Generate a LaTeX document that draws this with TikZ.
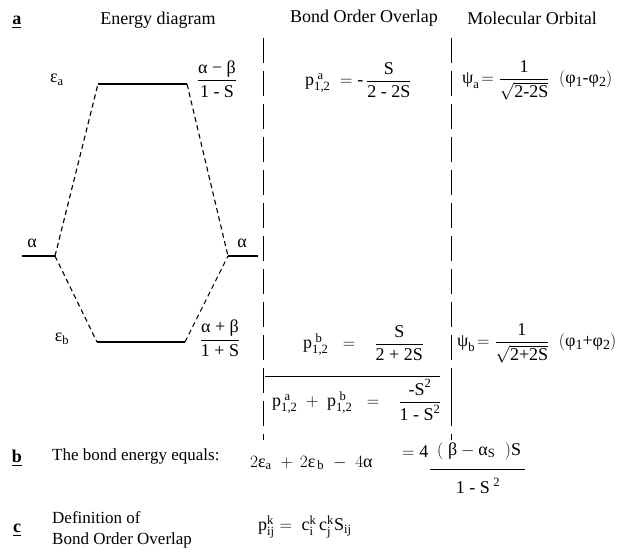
\documentclass[tikz,border=0pt]{standalone}
\usepackage{amsmath}
\usepackage{fontspec}
\setmainfont{Liberation Serif}
\newcommand{\tx}[1]{\text{#1}}
\newcommand{\lowd}[1]{\raisebox{-2.5pt}{\fontsize{14}{14}\selectfont #1}}
\begin{document}
\begin{tikzpicture}[x=1pt,y=-1pt,
  txt/.style={inner sep=0pt, font=\fontsize{18}{21}\selectfont},
  sm/.style={inner sep=0pt, font=\fontsize{17}{20}\selectfont},
  lvl/.style={line width=1.3pt},
  conn/.style={line width=1.1pt, dash pattern=on 5pt off 3.5pt},
  vline/.style={line width=1pt, dash pattern=on 25pt off 8pt}]
\useasboundingbox (0,0) rectangle (620,553);

% headers
\node[txt] (la) at (17,22) {\underline{\textbf{a}}};
\node[txt] (h1) at (158,20) {Energy diagram};
\node[txt] (h2) at (364,18) {Bond Order Overlap};
\node[txt] (h3) at (532,18) {Molecular Orbital};

% column separators
\coordinate (v1t) at (263,38); \coordinate (v1b) at (263,440);
\coordinate (v2t) at (451,38); \coordinate (v2b) at (451,440);
\draw[vline] (v1t) -- (v1b);
\draw[vline] (v2t) -- (v2b);
\coordinate (sepL) at (265,376); \coordinate (sepR) at (440,376);
\draw[line width=1pt] (sepL) -- (sepR);
\coordinate (rbt) at (451,383); \coordinate (rbb) at (451,420);
\draw[line width=1pt] (rbt) -- (rbb);

% energy levels
\coordinate (ea1) at (98,84);  \coordinate (ea2) at (187,84);
\coordinate (al1) at (22,256); \coordinate (al2) at (55,256);
\coordinate (ar1) at (228,256); \coordinate (ar2) at (258,256);
\coordinate (eb1) at (97,342); \coordinate (eb2) at (185,342);
\draw[lvl] (ea1) -- (ea2);
\draw[lvl] (al1) -- (al2);
\draw[lvl] (ar1) -- (ar2);
\draw[lvl] (eb1) -- (eb2);
\draw[conn] (al2) -- (ea1);
\draw[conn] (ea2) -- (ar1);
\draw[conn] (al2) -- (eb1);
\draw[conn] (eb2) -- (ar1);

\node[txt] (lea) at (57,80) {$\tx{ε}_{\tx{a}}$};
\node[txt] (lal) at (32,243) {α};
\node[txt] (lar) at (242,243) {α};
\node[txt] (leb) at (62,339) {$\tx{ε}_{\tx{b}}$};
\node[txt] (fa) at (217,79) {$\dfrac{\tx{α − β}}{\tx{1 - S}}$};
\node[txt] (fb) at (220,338) {$\dfrac{\tx{α + β}}{\tx{1 + S}}$};

% bond order overlap
\node[txt,anchor=west] (pa) at (305,80) {$\tx{p}^{\;\tx{a}}_{\tx{1,2}} \;= \tx{-}\,\dfrac{\tx{S}}{\tx{2 - 2S}}$};
\node[txt,anchor=west] (pb) at (303,343) {$\tx{p}^{\;\tx{b}}_{\tx{1,2}} \;\;=\;\;\; \dfrac{\tx{S}}{\tx{2 + 2S}}$};
\node[txt,anchor=west] (ps) at (272,400) {$\tx{p}^{\;\tx{a}}_{\tx{1,2}} \;+\; \tx{p}^{\;\tx{b}}_{\tx{1,2}} \;\;=\;\;\; \dfrac{\tx{-S}^{\tx{2}}}{\tx{1 - S}^{\tx{2}}}$};

% molecular orbitals
\node[txt,anchor=west] (psa) at (462,80) {$\tx{ψ}_{\tx{a}}\!=\dfrac{\tx{1}}{\sqrt{\tx{2-2S}}}\;\;(\tx{φ\lowd{1}-φ\lowd{2}})$};
\node[txt,anchor=west] (psb) at (457,343) {$\tx{ψ}_{\tx{b}}\!=\dfrac{\tx{1}}{\sqrt{\tx{2+2S}}}\;\;(\tx{φ\lowd{1}+φ\lowd{2}})$};

% part b
\node[txt] (lb) at (17,458) {\underline{\textbf{b}}};
\node[sm,anchor=west] (tb) at (52,456) {The bond energy equals:};
\node[txt,anchor=west] (eq1) at (250,463) {$2\tx{ε}_{\tx{a}} \hspace{5pt}+\hspace{3pt} 2\tx{ε}_{\,\tx{b}} \hspace{5pt}-\hspace{5pt} 4\tx{α}$};
\node[txt,anchor=west] (eq2) at (402,452) {$=\tx{4}$};
\node[txt,anchor=west] (num) at (437,451) {$(\;\tx{β} - \tx{α}_{\tx{S}}\;\;)\tx{S}$};
\coordinate (barL) at (430,469); \coordinate (barR) at (525,469);
\draw[line width=0.8pt] (barL) -- (barR);
\node[txt] (den) at (478,486) {$\tx{1 - S}^{\;\tx{2}}$};

% part c
\node[txt] (lc) at (17,530) {\underline{\textbf{c}}};
\node[sm,anchor=west] (tc1) at (52,518) {Definition of};
\node[sm,anchor=west] (tc2) at (52,540) {Bond Order Overlap};
\node[txt,anchor=west] (pk) at (258,527) {$\tx{p}^{\tx{k}}_{\tx{ij}} = \;\tx{c}^{\tx{k}}_{\tx{i}}\,\tx{c}^{\tx{k}}_{\tx{j}}\tx{S}_{\tx{ij}}$};
\end{tikzpicture}
\end{document}
